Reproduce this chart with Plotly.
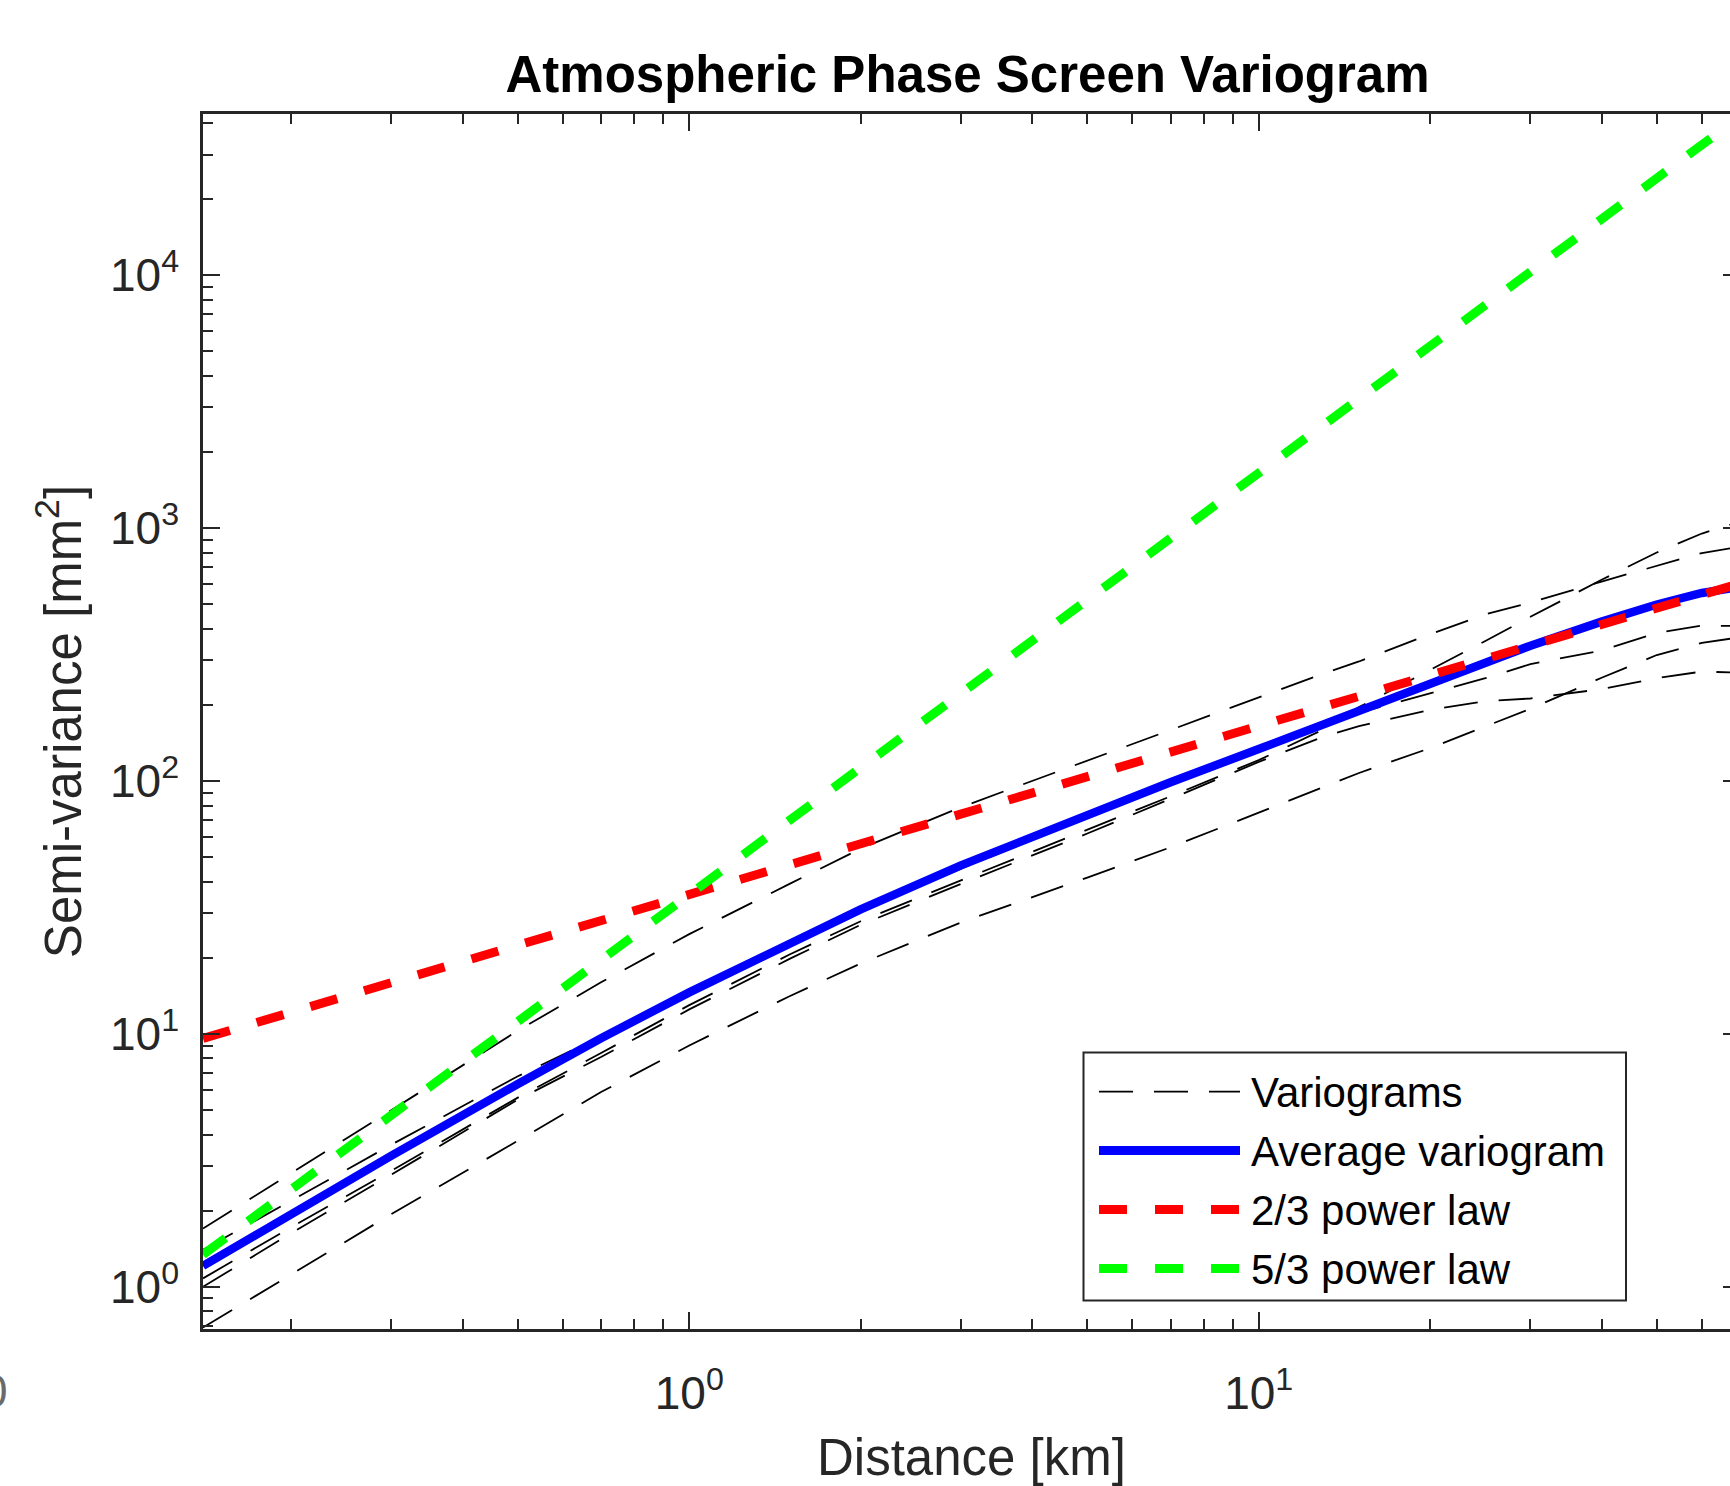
import numpy as np
import plotly.graph_objects as go

# ---------------- data ----------------
distance_km = [0.14, 0.2, 0.3, 0.5, 0.7, 1, 1.5, 2, 3, 5, 7, 10, 13, 15, 20, 25, 30, 40, 50, 60, 70]

variogram_1 = [1.70, 2.82, 5.0, 10.3, 16.0, 24.8, 39.2, 54, 78.8, 120.6, 159.6, 215, 266, 297, 381, 456, 508, 615, 708, 797, 845]
variogram_2 = [1.08, 1.72, 2.88, 5.6, 8.4, 13.0, 20.6, 27.9, 40.5, 64, 87, 121, 160, 196, 274, 358, 446, 625, 801, 952, 1062]
variogram_3 = [1.40, 2.2, 3.65, 6.8, 9.8, 15.0, 23.3, 30.5, 45, 72, 98, 132, 166, 186, 223, 255, 290, 328, 385, 412, 410]
variogram_4 = [1.0, 1.63, 2.78, 5.5, 8.1, 12.5, 19.8, 27.0, 39.2, 62, 85, 119, 150, 165, 191, 207, 212, 231, 255, 271, 268]
variogram_5 = [0.69, 1.12, 1.94, 3.78, 5.89, 9.0, 14.1, 19.0, 27.6, 41.5, 54.7, 75, 94.7, 107.6, 135, 164, 193, 256, 315, 352, 370]
average_variogram = [1.21, 1.94, 3.30, 6.34, 9.62, 14.6, 23.0, 31.1, 46.4, 73.5, 98.9, 133.9, 167, 188.7, 243.9, 295.4, 343, 426.8, 499, 554, 586]

power_law_x = [0.14, 70]
power_law_2_3 = [9.6, 604]
power_law_5_3 = [1.34, 42400]

legend_labels = ["Variograms", "Average variogram", "2/3 power law", "5/3 power law"]
x_tick_values = [1, 10]
x_tick_labels = ["10<sup>0</sup>", "10<sup>1</sup>"]
y_tick_values = [1, 10, 100, 1000, 10000]
y_tick_labels = ["10<sup>0</sup>", "10<sup>1</sup>", "10<sup>2</sup>", "10<sup>3</sup>", "10<sup>4</sup>"]

# ---------------- layout geometry ----------------
W, H = 1750, 1486
L, R, T, B = 203, 1740, 114, 1329.5
FONT = "Liberation Sans, Arial, Helvetica, sans-serif"
AXC = "#262626"


def px_x(p):
    return (p - L) / (R - L)


def px_y(p):
    return (B - p) / (B - T)


fig = go.Figure()

black_dash = "34px,21px"
thick_dash = "28px,28px"

for ys in [variogram_1, variogram_2, variogram_3, variogram_4, variogram_5]:
    fig.add_trace(go.Scatter(x=distance_km, y=ys, mode="lines",
                             line=dict(color="black", width=1.8, dash=black_dash),
                             showlegend=False, hoverinfo="skip"))

fig.add_trace(go.Scatter(x=distance_km, y=average_variogram, mode="lines",
                         line=dict(color="#0000ff", width=8.5),
                         showlegend=False))
fig.add_trace(go.Scatter(x=power_law_x, y=power_law_2_3, mode="lines",
                         line=dict(color="#ff0000", width=9, dash=thick_dash),
                         showlegend=False))
fig.add_trace(go.Scatter(x=power_law_x, y=power_law_5_3, mode="lines",
                         line=dict(color="#00ff00", width=9, dash=thick_dash),
                         showlegend=False))

x_minor = [k * 10.0 ** e for e in range(-1, 2) for k in range(2, 10)]
y_minor = [k * 10.0 ** e for e in range(-1, 5) for k in range(2, 10)]

common_axis = dict(type="log", showline=True, linewidth=2.5, linecolor=AXC,
                   mirror="allticks", ticks="inside", ticklen=17, tickwidth=2,
                   tickcolor=AXC, showgrid=False, zeroline=False, automargin=False,
                   tickfont=dict(family=FONT, size=46, color=AXC))

fig.update_xaxes(range=[np.log10(0.14), np.log10(70)],
                 tickmode="array", tickvals=x_tick_values, ticktext=x_tick_labels,
                 minor=dict(tickmode="array", tickvals=x_minor, ticks="inside",
                            ticklen=10, tickwidth=2, tickcolor=AXC),
                 ticklabelstandoff=22,
                 title=dict(text="Distance [km]", font=dict(family=FONT, size=51, color=AXC),
                            standoff=24),
                 **common_axis)
fig.update_yaxes(range=[-0.1668, 4.6376],
                 tickmode="array", tickvals=y_tick_values, ticktext=y_tick_labels,
                 minor=dict(tickmode="array", tickvals=y_minor, ticks="inside",
                            ticklen=10, tickwidth=2, tickcolor=AXC),
                 ticklabelstandoff=12,
                 title=dict(text="Semi-variance [mm<sup>2</sup>]",
                            font=dict(family=FONT, size=51, color=AXC), standoff=13),
                 **common_axis)

# ---------------- manual legend ----------------
shapes = [dict(type="rect", xref="paper", yref="paper",
               x0=px_x(1083.5), x1=px_x(1626), y0=px_y(1301), y1=px_y(1053),
               line=dict(color=AXC, width=2), fillcolor="white", layer="above")]
rows_y = [1092, 1151, 1210, 1269]
samples = [("black", 1.8, black_dash), ("#0000ff", 9, "solid"),
           ("#ff0000", 9, thick_dash), ("#00ff00", 9, thick_dash)]
annotations = []
for yy, (c, w, d), lab in zip(rows_y, samples, legend_labels):
    shapes.append(dict(type="line", xref="paper", yref="paper",
                       x0=px_x(1099), x1=px_x(1240), y0=px_y(yy), y1=px_y(yy),
                       line=dict(color=c, width=w, dash=d), layer="above"))
    annotations.append(dict(xref="paper", yref="paper", x=px_x(1249), y=px_y(yy + 1),
                            text=lab, showarrow=False, xanchor="left", yanchor="middle",
                            font=dict(family=FONT, size=42, color="black")))

# clipped label fragment at the far left edge of the reference
annotations.append(dict(xref="paper", yref="paper", x=px_x(-4.5), y=px_y(1392),
                        text="0", showarrow=False, xanchor="center", yanchor="middle",
                        font=dict(family=FONT, size=46, color="#6a6a6a")))

fig.update_layout(
    width=W, height=H,
    margin=dict(l=L, r=W - R, t=T, b=H - B, pad=0, autoexpand=False),
    paper_bgcolor="white", plot_bgcolor="white",
    title=dict(text="Atmospheric Phase Screen Variogram", x=967.5 / W, xref="container",
               xanchor="center", y=1 - 74 / H, yref="container", yanchor="middle",
               font=dict(family=FONT, size=51, color="black", weight="bold")),
    shapes=shapes, annotations=annotations, showlegend=False,
)

fig.write_html("out.html")
